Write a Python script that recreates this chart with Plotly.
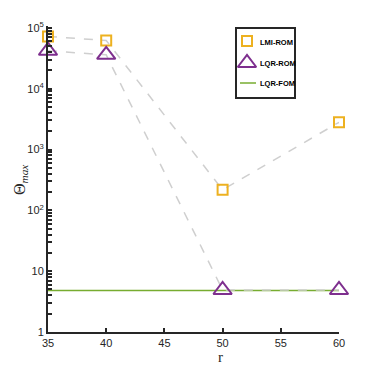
import plotly.graph_objects as go

ORANGE = "#EDB120"
PURPLE = "#7E2F8E"
GREEN = "#77AC30"
GREY = "#cfcfcf"
AXIS = "#262626"

# data
r = [35, 40, 50, 60]
theta_lmi_rom = [72000, 62000, 217, 2800]
theta_lqr_rom = [42000, 36000, 4.9, 4.9]
r_fom = [35, 60]
theta_lqr_fom = [4.8, 4.8]

ydecades = [1, 10, 100, 1000, 10000, 100000]
ydecade_text = ["1", "10", "10<sup>2</sup>", "10<sup>3</sup>", "10<sup>4</sup>", "10<sup>5</sup>"]
yminor_vals = [m * 10 ** d for d in range(5) for m in range(2, 10)]
xtick_vals = [35, 40, 45, 50, 55, 60]

legend_names = ["LMI-ROM", "LQR-ROM", "LQR-FOM"]

# page body adds an 8px margin, so the figure is drawn 8px in from the corner
OFF = 8
W = H = 374 - 2 * OFF
PL, PR, PT, PB = 48, 339, 26, 332  # plot area in screen pixels


def px_to_paper(x, y):
    return (x - PL) / (PR - PL), (PB - y) / (PB - PT)


fig = go.Figure()

fig.add_trace(go.Scatter(x=r_fom, y=theta_lqr_fom, mode="lines",
                         line=dict(color=GREEN, width=1.5), showlegend=False,
                         cliponaxis=False))
# dashed connectors
fig.add_trace(go.Scatter(x=r, y=theta_lmi_rom, mode="lines", showlegend=False,
                         line=dict(color=GREY, width=1.5, dash="dash"),
                         cliponaxis=False))
fig.add_trace(go.Scatter(x=r, y=theta_lqr_rom, mode="lines", showlegend=False,
                         line=dict(color=GREY, width=1.5, dash="dash"),
                         cliponaxis=False))
sq = dict(symbol="square-open", size=10, color=ORANGE, line=dict(width=2, color=ORANGE))
tri = dict(symbol="triangle-up-open", size=16, color=PURPLE, line=dict(width=2, color=PURPLE))
fig.add_trace(go.Scatter(x=r, y=theta_lmi_rom, mode="markers", showlegend=False,
                         marker=sq, cliponaxis=False))
fig.add_trace(go.Scatter(x=r, y=theta_lqr_rom, mode="markers", showlegend=False,
                         marker=tri, cliponaxis=False))

# hand-drawn legend on a pixel overlay axis (screen coords)
fig.add_trace(go.Scatter(x=[247], y=[41], mode="markers", marker=sq, xaxis="x2",
                         yaxis="y2", showlegend=False, cliponaxis=False))
fig.add_trace(go.Scatter(x=[247], y=[63], mode="markers", marker=tri, xaxis="x2",
                         yaxis="y2", showlegend=False, cliponaxis=False))
fig.add_shape(type="rect", xref="x2", yref="y2", x0=236, x1=295, y0=28, y1=98,
              line=dict(color=AXIS, width=2), fillcolor="rgba(0,0,0,0)")
fig.add_shape(type="line", xref="x2", yref="y2", x0=240, x1=256, y0=83, y1=83,
              line=dict(color=GREEN, width=1.5))
for name, yy in zip(legend_names, [42, 63, 83]):
    fig.add_annotation(text=name, xref="x2", yref="y2", x=257.5, y=yy, showarrow=False,
                       xanchor="left", yanchor="middle",
                       font=dict(size=7.5, family="Liberation Sans, Arial",
                                 weight="bold", color="black"))

# decade ticks get labels, the in-between ones stay blank
ytick_vals = ydecades + yminor_vals
ytick_text = ydecade_text + [""] * len(yminor_vals)

fig.update_layout(
    width=W, height=H,
    margin=dict(l=PL - OFF, r=W - (PR - OFF), t=PT - OFF, b=H - (PB - OFF), pad=0),
    paper_bgcolor="white", plot_bgcolor="white",
    font=dict(family="Liberation Sans, Arial", size=11, color=AXIS),
    showlegend=False,
    xaxis=dict(range=[35, 60], tickvals=xtick_vals, ticks="inside", ticklen=4,
               tickwidth=1.5, tickcolor=AXIS, showline=True, linewidth=2,
               linecolor=AXIS, showgrid=False, zeroline=False),
    yaxis=dict(type="log", range=[0, 5.03], tickvals=ytick_vals, ticktext=ytick_text,
               ticks="inside", ticklen=4, tickwidth=1.5, tickcolor=AXIS,
               showline=True, linewidth=2, linecolor=AXIS, showgrid=False,
               zeroline=False),
    xaxis2=dict(overlaying="x", range=[PL, PR], visible=False, anchor="y2"),
    yaxis2=dict(overlaying="y", range=[PB, PT], visible=False, anchor="x2"),
)

rx, ry = px_to_paper(220, 357)
fig.add_annotation(text="r", xref="paper", yref="paper", x=rx, y=ry,
                   showarrow=False, font=dict(family="Liberation Serif", size=15, color=AXIS),
                   xanchor="center", yanchor="middle")
tx, ty = px_to_paper(20, 180)
fig.add_annotation(text="Θ<sub><i>max</i></sub>", xref="paper", yref="paper",
                   x=tx, y=ty, textangle=-90, showarrow=False,
                   font=dict(family="Liberation Serif", size=16, color=AXIS),
                   xanchor="center", yanchor="middle")

fig.write_html("out.html")
